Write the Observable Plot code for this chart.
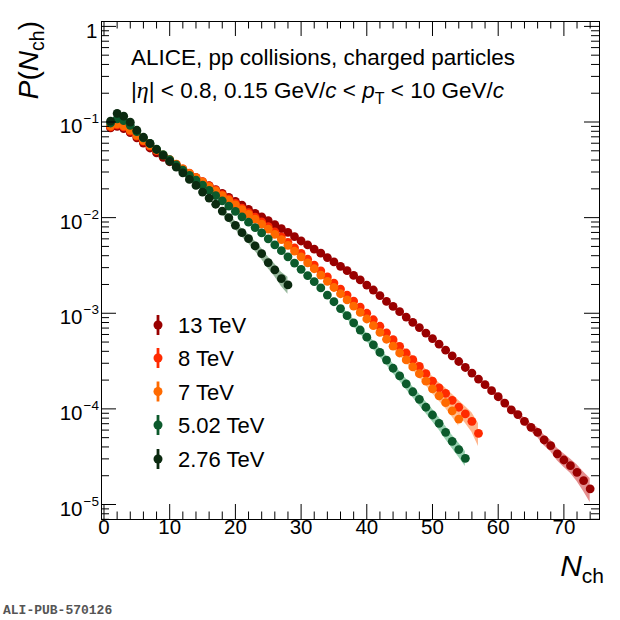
<!DOCTYPE html>
<html><head><meta charset="utf-8">
<script src="https://cdn.jsdelivr.net/npm/d3@7"></script>
<script src="https://cdn.jsdelivr.net/npm/@observablehq/plot@0.6"></script>
<style>
body{margin:0;background:#fff;}
#wrap{width:620px;height:620px;}
</style></head><body><div id="wrap"></div>
<script>
// ---------- data ----------
const energies = ["13 TeV", "8 TeV", "7 TeV", "5.02 TeV", "2.76 TeV"];
const dotColors = ["#990000", "#ff2a00", "#ff6a00", "#0c5a2c", "#0b2a10"];
const bandColors = ["#e07a7a", "#ffa878", "#ffb882", "#86c8a2", "#86ac8c"];
const nFirst = 1; // first N_ch bin of every series

const p13 = [0.0867,0.0902,0.0855,0.0773,0.0684,0.0603,0.0535,0.0476,0.0427,0.0384,
  0.0347,0.0315,0.0286,0.0261,0.0237,0.0216,0.0196,0.0179,0.0163,0.0148,
  0.0135,0.0122,0.0111,0.0102,0.00929,0.00847,0.00769,0.00700,0.00632,0.00570,
  0.00519,0.00468,0.00425,0.00382,0.00344,0.00310,0.00279,0.00249,0.00223,0.00197,
  0.00175,0.00153,0.00133,0.00118,0.00104,9.12e-4,8.04e-4,7.08e-4,6.21e-4,5.43e-4,
  4.75e-4,4.11e-4,3.59e-4,3.13e-4,2.71e-4,2.37e-4,2.05e-4,1.79e-4,1.55e-4,1.34e-4,
  1.15e-4,9.75e-5,8.71e-5,7.41e-5,6.41e-5,5.69e-5,4.73e-5,4.13e-5,3.38e-5,2.92e-5,
  2.55e-5,2.17e-5,1.78e-5,1.46e-5];
const p8 = [0.0891,0.0933,0.0891,0.0805,0.0711,0.0631,0.0561,0.0501,0.0448,0.0402,
  0.0361,0.0324,0.0292,0.0264,0.0238,0.0215,0.0194,0.0174,0.0157,0.0141,
  0.0126,0.0113,0.0101,0.00904,0.00804,0.00711,0.00630,0.00551,0.00482,0.00422,
  0.00367,0.00319,0.00277,0.00240,0.00207,0.00179,0.00155,0.00134,0.00116,0.00100,
  8.55e-4,7.31e-4,6.24e-4,5.30e-4,4.51e-4,3.84e-4,3.27e-4,2.78e-4,2.34e-4,1.95e-4,
  1.66e-4,1.45e-4,1.23e-4,1.04e-4,8.85e-5,7.41e-5,5.55e-5];
const p7 = [0.0912,0.0955,0.0912,0.0822,0.0724,0.0641,0.0569,0.0507,0.0452,0.0405,
  0.0362,0.0324,0.0291,0.0262,0.0236,0.0211,0.0190,0.0170,0.0152,0.0136,
  0.0121,0.0108,0.00964,0.00857,0.00759,0.00668,0.00589,0.00513,0.00447,0.00389,
  0.00337,0.00292,0.00251,0.00216,0.00186,0.00160,0.00138,0.00119,0.00102,8.71e-4,
  7.41e-4,6.31e-4,5.35e-4,4.53e-4,3.84e-4,3.25e-4,2.75e-4,2.33e-4,1.95e-4,1.62e-4,
  1.37e-4,1.16e-4,9.55e-5,7.83e-5];
const p502 = [0.0977,0.108,0.1035,0.0923,0.0794,0.0684,0.0596,0.0521,0.0457,0.0403,
  0.0355,0.0313,0.0277,0.0247,0.0219,0.0193,0.0170,0.0150,0.0132,0.0116,
  0.0102,0.00897,0.00787,0.00692,0.00600,0.00520,0.00451,0.00389,0.00335,0.00288,
  0.00248,0.00214,0.00184,0.00155,0.00132,0.00112,9.44e-4,7.94e-4,6.68e-4,5.62e-4,
  4.68e-4,3.89e-4,3.24e-4,2.66e-4,2.21e-4,1.83e-4,1.51e-4,1.26e-4,1.04e-4,8.63e-5,
  7.06e-5,5.69e-5,4.58e-5,3.75e-5,3.04e-5];
const p276 = [0.102,0.123,0.115,0.0995,0.082,0.0693,0.0597,0.0516,0.0447,0.0387,
  0.0337,0.0294,0.0251,0.0217,0.0185,0.0160,0.0138,0.0117,0.00998,0.00832,
  0.00697,0.00603,0.00506,0.00420,0.00339,0.00284,0.00230,0.00198];

// relative systematic uncertainty (visible tails only), first N of each list
const sysStart = [58, 44, 44, 36, 18];
const sys13 = [0.06,0.06,0.07,0.07,0.08,0.08,0.09,0.10,0.12,0.13,0.14,0.15,0.16,0.17,0.20,0.23,0.28];
const sys8 = [0.06,0.07,0.08,0.09,0.10,0.11,0.12,0.13,0.14,0.16,0.18,0.20,0.23,0.27];
const sys7 = [0.05,0.06,0.07,0.08,0.09,0.10,0.11,0.12,0.13,0.14,0.16];
const sys502 = [0.08,0.08,0.09,0.09,0.10,0.10,0.11,0.11,0.12,0.12,0.13,0.13,0.14,0.14,0.15,0.15,0.16,0.16,0.17,0.18];
const sys276 = [0.08,0.09,0.10,0.10,0.11,0.12,0.13,0.14,0.15,0.17,0.20];

const xTickLabels = [0, 10, 20, 30, 40, 50, 60, 70];
const yTickExps = [0, -1, -2, -3, -4, -5];
const titleLine1 = "ALICE, pp collisions, charged particles";
const pubLabel = "ALI-PUB-570126";

// ---------- build tables ----------
const valueArrays = [p13, p8, p7, p502, p276];
const sysArrays = [sys13, sys8, sys7, sys502, sys276];
const points = valueArrays.flatMap((vals, k) => vals.map((p, i) => ({series: energies[k], n: nFirst + i, p})));
const bands = sysArrays.map((errs, k) => errs.map((e, j) => {
  const n = sysStart[k] + j; const p = valueArrays[k][n - nFirst];
  return {n, lo: p * (1 - e), hi: p * (1 + e)};
}));

const W = 620, H = 620, mL = 101, mR = 21, mT = 21, mB = 101;
const pw = W - mL - mR, ph = H - mT - mB;
const xDomain = [-0.38, 75.42];
const yDomain = [6.97e-6, 1.125];
const xMinor = d3.range(0, 76, 2).filter(v => v % 10 !== 0);
const yMajor = yTickExps.map(e => 10 ** e);
const yMinor = d3.range(-6, 1).flatMap(e => d3.range(2, 10).map(m => m * 10 ** e))
  .filter(v => v >= yDomain[0] && v <= yDomain[1]);
const FONT = "Liberation Sans, Arial, Helvetica, sans-serif";

const chart = Plot.plot({
  width: W, height: H,
  marginLeft: mL, marginRight: mR, marginTop: mT, marginBottom: mB,
  x: {domain: xDomain, axis: null},
  y: {type: "log", domain: yDomain, axis: null},
  color: {domain: energies, range: dotColors},
  marks: [
    ...bands.map((b, k) => Plot.areaY(b, {x: "n", y1: "lo", y2: "hi", fill: bandColors[k], fillOpacity: 0.85})),
    Plot.dot(points, {x: "n", y: "p", fill: "series", r: 4.4}),
    Plot.tickX(xTickLabels, {x: d => d, insetTop: ph - 15, stroke: "#000"}),
    Plot.tickX(xMinor, {x: d => d, insetTop: ph - 7.5, stroke: "#000"}),
    Plot.tickX(xTickLabels, {x: d => d, insetBottom: ph - 15, stroke: "#000"}),
    Plot.tickX(xMinor, {x: d => d, insetBottom: ph - 7.5, stroke: "#000"}),
    Plot.tickY(yMajor, {y: d => d, insetRight: pw - 15, stroke: "#000"}),
    Plot.tickY(yMinor, {y: d => d, insetRight: pw - 8, stroke: "#000"}),
    Plot.tickY(yMajor, {y: d => d, insetLeft: pw - 15, stroke: "#000"}),
    Plot.tickY(yMinor, {y: d => d, insetLeft: pw - 8, stroke: "#000"}),
    Plot.frame({stroke: "#000"}),
    Plot.text(xTickLabels, {x: d => d, frameAnchor: "bottom", dy: 14.6, text: d => String(d),
      fontSize: 20.5, fontFamily: FONT, fill: "#000"}),
    Plot.text(yTickExps.filter(e => e === 0), {y: e => 10 ** e, frameAnchor: "left", dx: -4, dy: 4.6,
      textAnchor: "end", text: () => "1", fontSize: 20.5, fontFamily: FONT, fill: "#000"}),
    Plot.text(yTickExps.filter(e => e < 0), {y: e => 10 ** e, frameAnchor: "left", dx: -19, dy: 4.6,
      textAnchor: "end", text: () => "10", fontSize: 20.5, fontFamily: FONT, fill: "#000"}),
    Plot.text(yTickExps.filter(e => e < 0), {y: e => 10 ** e, frameAnchor: "left", dx: -18, dy: -3.2,
      textAnchor: "start", text: e => "\u2212" + (-e), fontSize: 13.5, fontFamily: FONT, fill: "#000"})
  ]
});
document.getElementById("wrap").appendChild(chart);

// ---------- rich text annotations ----------
const svg = d3.select(chart);
function rich(x, y, size, parts, opts = {}) {
  const t = svg.append("text").attr("x", x).attr("y", y)
    .attr("font-family", FONT).attr("font-size", size).attr("fill", "#000")
    .attr("text-anchor", opts.anchor || "start");
  if (opts.transform) t.attr("transform", opts.transform).attr("x", 0).attr("y", 0);
  parts.forEach(p => {
    const s = t.append("tspan").text(p.t);
    if (p.i) s.attr("font-style", "italic");
    if (p.ff) s.attr("font-family", p.ff);
    if (p.fs) s.attr("font-size", p.fs);
    if (p.dy) s.attr("dy", p.dy);
  });
  return t;
}
rich(131, 65, 22.5, [{t: titleLine1}]);
rich(131, 98, 22.5, [
  {t: "|"}, {t: "\u03b7", i: true, ff: "Liberation Serif, serif", fs: 24}, {t: "| < 0.8, 0.15 GeV/"},
  {t: "c", i: true}, {t: " < "}, {t: "p", i: true}, {t: "T", fs: 16, dy: 6},
  {t: " < 10 GeV/", dy: -6}, {t: "c", i: true}
]);
rich(0, 0, 28, [{t: "P", i: true}, {t: "("}, {t: "N", i: true}, {t: "ch", fs: 19.5, dy: 6}, {t: ")", dy: -6}],
  {anchor: "end", transform: "translate(38,21) rotate(-90)"});
rich(604, 576, 30, [{t: "N", i: true}, {t: "ch", fs: 21, dy: 7}], {anchor: "end"});
svg.append("text").attr("x", 3).attr("y", 614).attr("text-anchor", "start")
  .attr("font-family", "Liberation Mono, Courier New, monospace")
  .attr("font-weight", "bold").attr("font-size", 13).attr("fill", "#555").text(pubLabel);

// ---------- legend ----------
const legendRowY = [325, 358, 391.5, 425, 459];
energies.forEach((name, k) => {
  const cy = legendRowY[k];
  const g = svg.append("g");
  g.append("line").attr("x1", 158).attr("x2", 158).attr("y1", cy - 10).attr("y2", cy + 10)
    .attr("stroke", dotColors[k]).attr("stroke-width", 2.8);
  g.append("circle").attr("cx", 158).attr("cy", cy).attr("r", 4.5).attr("fill", dotColors[k]);
  g.append("text").attr("x", 178).attr("y", cy + 8).attr("text-anchor", "start").attr("font-family", FONT)
    .attr("font-size", 22).attr("fill", "#000").text(name);
});
</script></body></html>
